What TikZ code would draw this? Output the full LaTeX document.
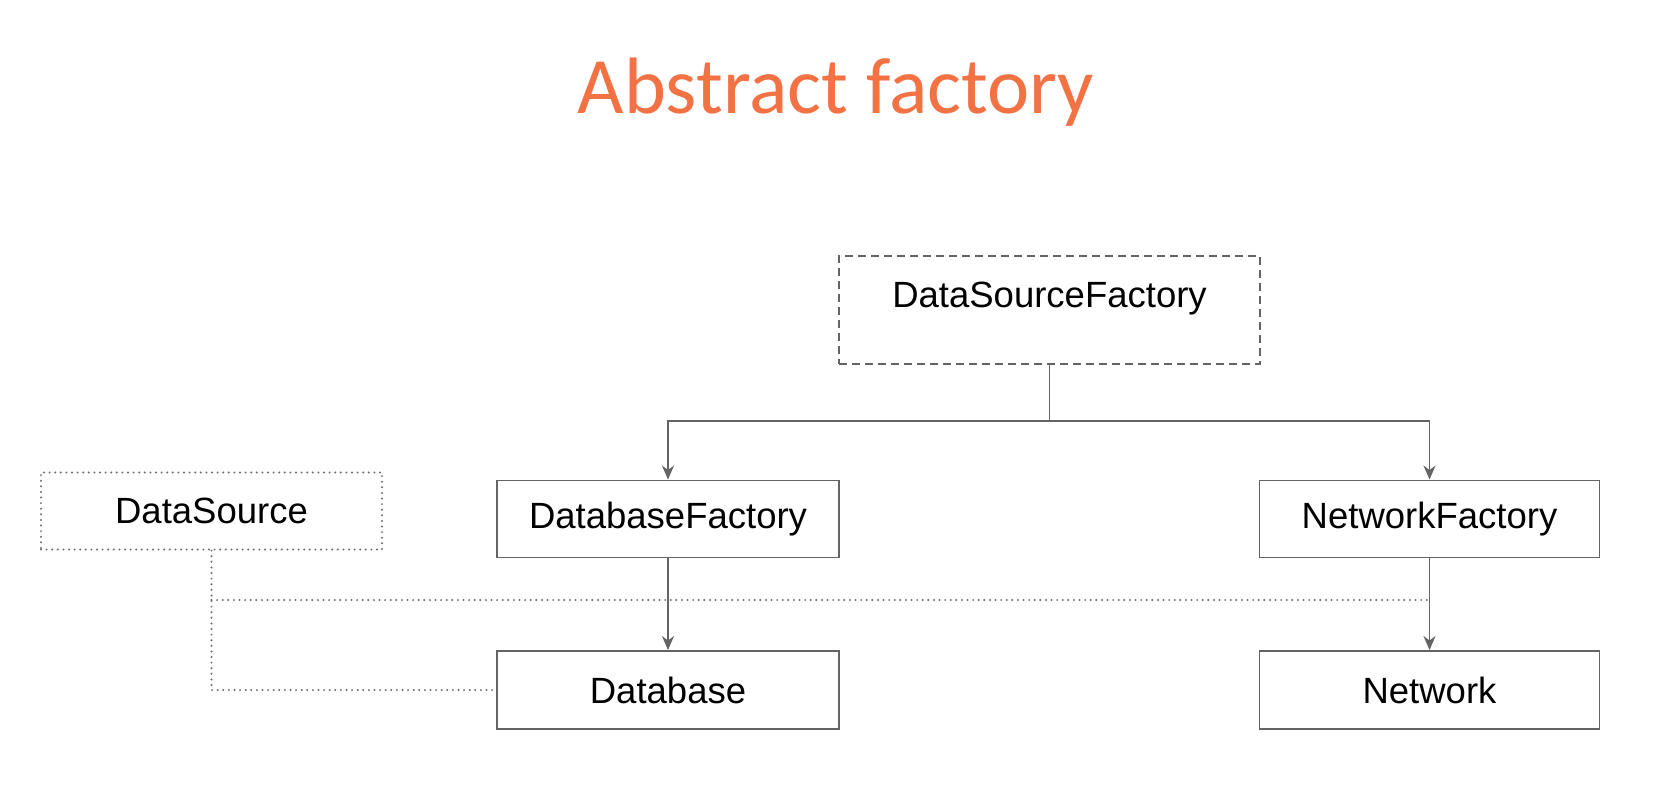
\documentclass[tikz,border=0pt]{standalone}
\usepackage{fontspec}
\setmainfont{Liberation Sans}
\newfontfamily\titlefont{Carlito}
\usetikzlibrary{arrows.meta}
\definecolor{ttl}{RGB}{242,114,68}
\definecolor{ln}{RGB}{100,100,100}
\definecolor{dt}{RGB}{110,110,110}
\tikzset{
  box/.style={draw=ln, line width=1.9pt, inner sep=0pt, minimum width=342pt, minimum height=77pt,
    font=\fontsize{36.5}{40}\selectfont},
  dashbox/.style={box, dash pattern=on 8pt off 5pt},
  dotbox/.style={box, draw=dt, line width=2.2pt, dash pattern=on 0pt off 5.6pt, line cap=round},
  arr/.style={draw=ln, line width=1.9pt, -{Stealth[length=14pt,width=12pt,inset=4.5pt]}},
  conn/.style={draw=ln, line width=1.9pt},
  dotline/.style={draw=dt, line width=2.2pt, dash pattern=on 0pt off 5.6pt, line cap=round},
  lbl/.style={inner sep=0pt, font=\fontsize{36.5}{40}\selectfont}
}
\begin{document}
\begin{tikzpicture}[x=1pt,y=-1pt]
\fill[white] (0,0) rectangle (1678,792);
\useasboundingbox (0,0) rectangle (1678,792);

\node[anchor=base, inner sep=0pt, text=ttl, font=\titlefont\fontsize{80}{82}\selectfont] (title) at (836,113) {Abstract factory};

\node[dashbox, minimum width=421pt, minimum height=108pt] (dsf) at (1049.5,310) {};
\node[lbl, anchor=base] (dsft) at (1049.5,307) {DataSourceFactory};

\node[box] (dbf) at (668,519) {DatabaseFactory};
\node[box, minimum width=340pt] (nf) at (1429.5,519) {NetworkFactory};
\node[box, minimum height=78pt] (db) at (668,690) {Database};
\node[box, minimum width=340pt, minimum height=78pt] (nw) at (1429.5,690) {Network};
\node[dotbox, minimum width=341pt] (ds) at (211.5,511) {DataSource};

\coordinate (hub) at (1049.5,421);
\draw[conn] (dsf.south) -- (hub);
\draw[arr] (hub) -| (dbf.north);
\draw[arr] (hub) -| (nf.north);
\draw[arr] (dbf.south) -- (db.north);
\draw[arr] (nf.south) -- (nw.north);

\coordinate (j) at (211.5,600);
\draw[dotline] (ds.south) -- (j) |- (db.west);
\draw[dotline] (j) -- (j -| nf.south);
\end{tikzpicture}
\end{document}
